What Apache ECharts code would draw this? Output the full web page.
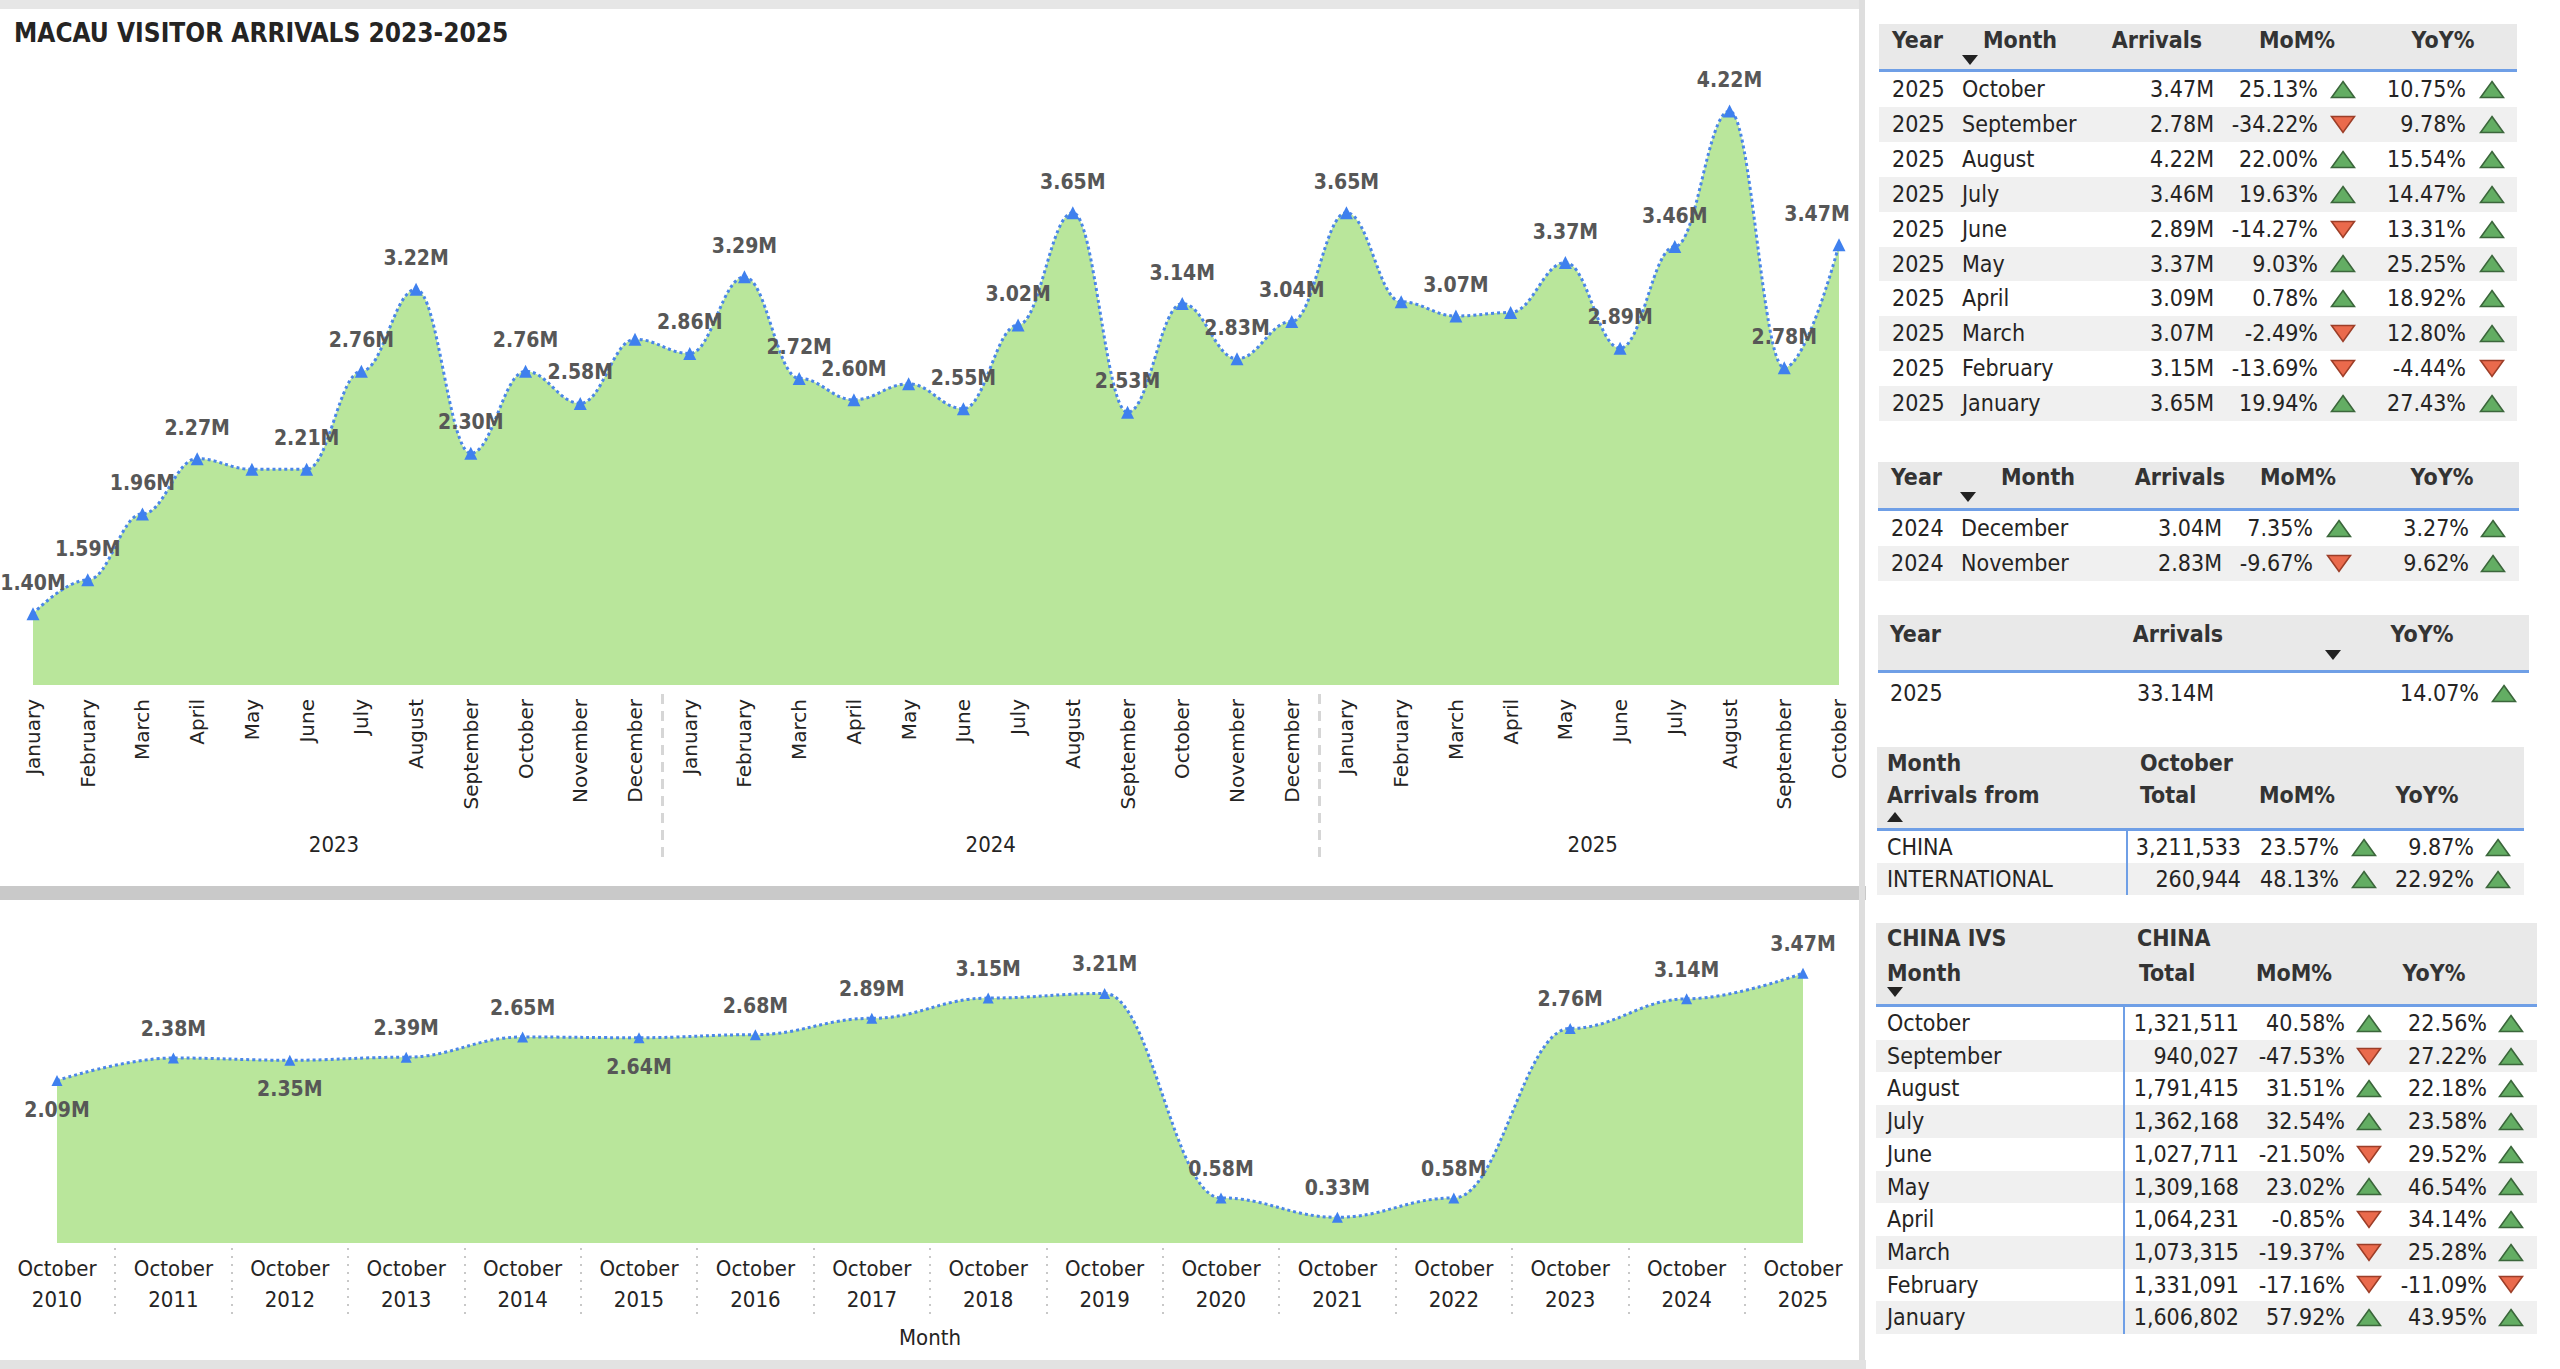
<!DOCTYPE html>
<html>
<head>
<meta charset="utf-8">
<script src="https://cdn.jsdelivr.net/npm/echarts@6.0.0/dist/echarts.min.js"></script>
<style>
  html, body { margin: 0; padding: 0; background: #fff; }
  body { width: 2560px; height: 1369px; position: relative; overflow: hidden;
         font-family: 'DejaVu Sans Condensed', 'Liberation Sans Narrow', sans-serif; color: #252423; }
  .bar { position: absolute; background: #e4e4e4; }
  .tbl { position: absolute; font-size: 23px; }
  .hd { position: absolute; left: 0; right: 0; background: #e9e9e9; border-bottom: 3px solid #6f9fe6; }
  .hd span { position: absolute; font-weight: bold; color: #333; line-height: 28px; white-space: nowrap; }
  .row { position: absolute; left: 0; right: 0; }
  .row.alt { background: #f0f0f0; }
  .row span { position: absolute; white-space: nowrap; }
  .vline { position: absolute; width: 2px; background: #6f9fe6; }
  .arr { position: absolute; }
</style>
</head>
<body>
<div class="bar" style="left:0;top:0;width:1862px;height:9px;background:#e6e6e6"></div>
<div class="bar" style="left:0;top:886px;width:1866px;height:14px;background:#c9c9c9"></div>
<div class="bar" style="left:1859px;top:0;width:6px;height:1369px;background:#dedede"></div>
<div class="bar" style="left:0;top:1360px;width:1866px;height:9px;background:#e2e2e2"></div>
<div id="chart" style="position:absolute;left:0;top:0;width:1858px;height:1369px"></div>
<div id="tables"></div>
<script>
// ---- chart data ----
const topMonths = [
  'January', 'February', 'March', 'April', 'May', 'June', 'July', 'August', 'September', 'October', 'November', 'December',
  'January', 'February', 'March', 'April', 'May', 'June', 'July', 'August', 'September', 'October', 'November', 'December',
  'January', 'February', 'March', 'April', 'May', 'June', 'July', 'August', 'September', 'October'
]
const yearNames = ['2023', '2024', '2025']
const yearMonthCounts = [12, 12, 10]
const topArrivals = [
  1.40, 1.59, 1.96, 2.27, 2.21, 2.21, 2.76, 3.22, 2.30, 2.76, 2.58, 2.94,
  2.86, 3.29, 2.72, 2.60, 2.69, 2.55, 3.02, 3.65, 2.53, 3.14, 2.83, 3.04,
  3.65, 3.15, 3.07, 3.09, 3.37, 2.89, 3.46, 4.22, 2.78, 3.47
]
const topHiddenLabels = [4, 11, 16, 25, 27]

const bottomYears = ['2010', '2011', '2012', '2013', '2014', '2015', '2016', '2017',
  '2018', '2019', '2020', '2021', '2022', '2023', '2024', '2025']
const bottomArrivals = [2.09, 2.38, 2.35, 2.39, 2.65, 2.64, 2.68, 2.89, 3.15, 3.21, 0.58, 0.33, 0.58, 2.76, 3.14, 3.47]
const bottomLabelsBelow = [0, 2, 5]

// ---- table data ----
const t1Months = ['October', 'September', 'August', 'July', 'June', 'May', 'April', 'March', 'February', 'January']
const t1Arrivals = ['3.47M', '2.78M', '4.22M', '3.46M', '2.89M', '3.37M', '3.09M', '3.07M', '3.15M', '3.65M']
const t1Mom = ['25.13%', '-34.22%', '22.00%', '19.63%', '-14.27%', '9.03%', '0.78%', '-2.49%', '-13.69%', '19.94%']
const t1Yoy = ['10.75%', '9.78%', '15.54%', '14.47%', '13.31%', '25.25%', '18.92%', '12.80%', '-4.44%', '27.43%']

const t2Months = ['December', 'November']
const t2Arrivals = ['3.04M', '2.83M']
const t2Mom = ['7.35%', '-9.67%']
const t2Yoy = ['3.27%', '9.62%']

const t3Year = ['2025']
const t3Arrivals = ['33.14M']
const t3Yoy = ['14.07%']

const t4Origins = ['CHINA', 'INTERNATIONAL']
const t4Totals = ['3,211,533', '260,944']
const t4Mom = ['23.57%', '48.13%']
const t4Yoy = ['9.87%', '22.92%']

const t5Months = ['October', 'September', 'August', 'July', 'June', 'May', 'April', 'March', 'February', 'January']
const t5Totals = ['1,321,511', '940,027', '1,791,415', '1,362,168', '1,027,711', '1,309,168', '1,064,231', '1,073,315', '1,331,091', '1,606,802']
const t5Mom = ['40.58%', '-47.53%', '31.51%', '32.54%', '-21.50%', '23.02%', '-0.85%', '-19.37%', '-17.16%', '57.92%']
const t5Yoy = ['22.56%', '27.22%', '22.18%', '23.58%', '29.52%', '46.54%', '34.14%', '25.28%', '-11.09%', '43.95%']

// ---- chart ----
const F = "'DejaVu Sans Condensed', 'Liberation Sans Narrow', sans-serif"
const lastIdx = topMonths.length - 1

// year label centres and year boundaries, from the month counts
const yearCentres = []
const yearBreaks = []
let start = 0
yearMonthCounts.forEach((n, i) => {
  yearCentres.push(start + (n - 1) / 2)
  if (i < yearMonthCounts.length - 1) yearBreaks.push(start + n - 0.5)
  start += n
})
const bottomBreaks = bottomYears.slice(1).map((y, i) => i + 0.5)

const lineStyle = { type: 'dotted', width: 3, color: '#4a86e8' }
const labelBase = { show: true, fontFamily: F, fontSize: 21, fontWeight: 'bold', color: '#575757',
  formatter: p => p.value.toFixed(2) + 'M' }

const chart = echarts.init(document.getElementById('chart'), null, { renderer: 'svg' })
chart.setOption({
  animation: false,
  title: {
    text: 'MACAU VISITOR ARRIVALS 2023-2025', left: 9, top: 15,
    textStyle: { fontFamily: F, fontSize: 26, fontWeight: 'bold', color: '#252423' }
  },
  grid: [
    { left: 33, right: 19, top: 79, bottom: 684 },
    { left: 57, right: 55, top: 932, bottom: 126 }
  ],
  xAxis: [
    {
      type: 'category', gridIndex: 0, position: 'bottom', data: topMonths, boundaryGap: false,
      axisLine: { show: false }, axisTick: { show: false },
      axisLabel: { rotate: 90, interval: 0, margin: 14, fontFamily: 'DejaVu Sans', fontSize: 20, color: '#252423' }
    },
    {
      type: 'value', gridIndex: 0, position: 'bottom', min: 0, max: lastIdx, offset: 140,
      axisLine: { show: false }, axisTick: { show: false }, splitLine: { show: false },
      axisLabel: {
        customValues: yearCentres, margin: 8, fontFamily: F, fontSize: 22, color: '#252423',
        formatter: v => yearNames[yearCentres.indexOf(v)]
      }
    },
    {
      type: 'value', gridIndex: 0, position: 'bottom', min: 0, max: lastIdx, offset: 172,
      axisLine: { show: false }, splitLine: { show: false }, axisLabel: { show: false },
      axisTick: { show: true, customValues: yearBreaks, inside: true, length: 163,
        lineStyle: { type: [10, 7], width: 3, color: '#d6d6d6' } }
    },
    {
      type: 'category', gridIndex: 1, position: 'bottom', data: bottomYears, boundaryGap: false,
      axisLine: { show: false }, axisTick: { show: false },
      axisLabel: { interval: 0, margin: 10, lineHeight: 31, fontFamily: F, fontSize: 22, color: '#252423',
        formatter: y => 'October\n' + y },
      name: 'Month', nameLocation: 'middle', nameGap: 83,
      nameTextStyle: { fontFamily: F, fontSize: 22, color: '#252423' }
    },
    {
      type: 'value', gridIndex: 1, position: 'bottom', min: 0, max: bottomYears.length - 1, offset: 5,
      axisLine: { show: false }, splitLine: { show: false }, axisLabel: { show: false },
      axisTick: { show: true, customValues: bottomBreaks, length: 67,
        lineStyle: { type: [2, 6], width: 2, color: '#c8c8c8' } }
    }
  ],
  yAxis: [
    { type: 'value', gridIndex: 0, min: 1, max: 4.4, show: false },
    { type: 'value', gridIndex: 1, min: 0, max: 4, show: false }
  ],
  series: [
    {
      type: 'line', xAxisIndex: 0, yAxisIndex: 0, smooth: 0.4, smoothMonotone: 'x',
      symbol: 'triangle', symbolSize: 13, itemStyle: { color: '#3f80ee' },
      lineStyle: lineStyle, areaStyle: { color: '#b9e69b', opacity: 1 },
      label: { ...labelBase, position: 'top', distance: 14 },
      data: topArrivals.map((v, i) => ({
        value: v,
        label: { show: topHiddenLabels.indexOf(i) < 0, offset: i === lastIdx ? [-22, 0] : [0, 0] }
      }))
    },
    {
      type: 'line', xAxisIndex: 3, yAxisIndex: 1, smooth: 0.4, smoothMonotone: 'x',
      symbol: 'triangle', symbolSize: 11, itemStyle: { color: '#3f80ee' },
      lineStyle: lineStyle, areaStyle: { color: '#b9e69b', opacity: 1 },
      label: { ...labelBase, distance: 13 },
      data: bottomArrivals.map((v, i) => ({
        value: v, label: { position: bottomLabelsBelow.indexOf(i) >= 0 ? 'bottom' : 'top' }
      }))
    }
  ]
})

// ---- tables ----
function tri(up) {
  return up
    ? '<svg width="26" height="19"><polygon points="13,1.5 24.5,17.5 1.5,17.5" fill="#63ad63" stroke="#3b663b" stroke-width="1.6"/></svg>'
    : '<svg width="26" height="19"><polygon points="1.5,1.5 24.5,1.5 13,17.5" fill="#ea6a4c" stroke="#9c3e28" stroke-width="1.6"/></svg>'
}
const sortDown = '<svg width="16" height="10"><polygon points="0,0 16,0 8,10" fill="#222"/></svg>'
const sortUp = '<svg width="16" height="10"><polygon points="0,10 16,10 8,0" fill="#222"/></svg>'

function cell(text, x, align, width) {
  if (align === 'right') return `<span style="right:${width - x}px">${text}</span>`
  if (align === 'center') return `<span style="left:${x}px;transform:translateX(-50%)">${text}</span>`
  return `<span style="left:${x}px">${text}</span>`
}

// t: {left, top, width, headH, rowH, heads:[[text,x,y,align]], sort:[up,x,y], vline:x, cols:[[values,x,align,arrowX]]}
function buildTable(t) {
  let h = `<div class="tbl" style="left:${t.left}px;top:${t.top}px;width:${t.width}px">`
  h += `<div class="hd" style="top:0;height:${t.headH}px">`
  t.heads.forEach(([txt, x, y, al]) => {
    h += cell(txt, x, al || 'left', t.width).replace('style="', `style="top:${y - 14}px;`)
  })
  h += `<span style="left:${t.sort[1] - 8}px;top:${t.sort[2] - 5}px;line-height:0">${t.sort[0] ? sortUp : sortDown}</span>`
  h += '</div>'
  const n = t.cols[0][0].length
  const y0 = t.headH + 3
  for (let r = 0; r < n; r++) {
    h += `<div class="row${r % 2 ? ' alt' : ''}" style="top:${y0 + r * t.rowH}px;height:${t.rowH}px;line-height:${t.rowH}px">`
    t.cols.forEach(([vals, x, al, ax]) => {
      h += cell(vals[r], x, al, t.width)
      if (ax) h += `<span class="arr" style="left:${ax - 13}px;top:${(t.rowH - 19) / 2}px;line-height:0">${tri(vals[r].charAt(0) !== '-')}</span>`
    })
    h += '</div>'
  }
  if (t.vline) h += `<div class="vline" style="left:${t.vline}px;top:${y0}px;height:${n * t.rowH}px"></div>`
  return h + '</div>'
}

const rep = (v, n) => Array(n).fill(v)
let html = ''
html += buildTable({
  left: 1879, top: 24, width: 638, headH: 45, rowH: 34.9,
  heads: [['Year', 13, 16], ['Month', 141, 16, 'center'], ['Arrivals', 278, 16, 'center'],
    ['MoM%', 418, 16, 'center'], ['YoY%', 564, 16, 'center']],
  sort: [false, 91, 36],
  cols: [[rep('2025', t1Months.length), 13, 'left'], [t1Months, 83, 'left'], [t1Arrivals, 335, 'right'],
    [t1Mom, 439, 'right', 464], [t1Yoy, 587, 'right', 613]]
})
html += buildTable({
  left: 1878, top: 462, width: 641, headH: 46, rowH: 35,
  heads: [['Year', 13, 15], ['Month', 160, 15, 'center'], ['Arrivals', 302, 15, 'center'],
    ['MoM%', 420, 15, 'center'], ['YoY%', 564, 15, 'center']],
  sort: [false, 90, 35],
  cols: [[rep('2024', t2Months.length), 13, 'left'], [t2Months, 83, 'left'], [t2Arrivals, 344, 'right'],
    [t2Mom, 435, 'right', 461], [t2Yoy, 591, 'right', 615]]
})
html += buildTable({
  left: 1878, top: 615, width: 651, headH: 55, rowH: 40,
  heads: [['Year', 12, 19], ['Arrivals', 300, 19, 'center'], ['YoY%', 544, 19, 'center']],
  sort: [false, 455, 40],
  cols: [[t3Year, 12, 'left'], [t3Arrivals, 259, 'left'], [t3Yoy, 601, 'right', 626]]
})
html += buildTable({
  left: 1877, top: 747, width: 647, headH: 81, rowH: 32,
  heads: [['Month', 10, 16], ['October', 263, 16], ['Arrivals from', 10, 48], ['Total', 263, 48],
    ['MoM%', 420, 48, 'center'], ['YoY%', 550, 48, 'center']],
  sort: [true, 18, 70], vline: 249,
  cols: [[t4Origins, 10, 'left'], [t4Totals, 364, 'right'], [t4Mom, 462, 'right', 487], [t4Yoy, 597, 'right', 621]]
})
html += buildTable({
  left: 1876, top: 923, width: 661, headH: 81, rowH: 32.7,
  heads: [['CHINA IVS', 11, 15], ['CHINA', 261, 15], ['Month', 11, 50], ['Total', 263, 50],
    ['MoM%', 418, 50, 'center'], ['YoY%', 558, 50, 'center']],
  sort: [false, 19, 69], vline: 247,
  cols: [[t5Months, 11, 'left'], [t5Totals, 363, 'right'], [t5Mom, 469, 'right', 493], [t5Yoy, 611, 'right', 635]]
})
document.getElementById('tables').innerHTML = html
</script>
</body>
</html>
